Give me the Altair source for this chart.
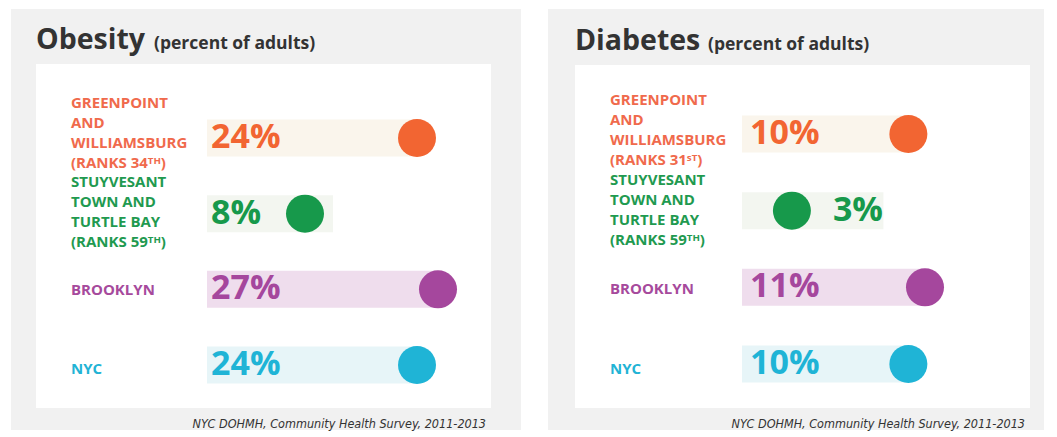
import altair as alt
import pandas as pd

# ---------------- data ----------------
NAMES = ["Greenpoint and Williamsburg", "Stuyvesant Town and Turtle Bay", "Brooklyn", "NYC"]
OBESITY_LABELS = [
    "GREENPOINT\nAND\nWILLIAMSBURG\n(RANKS 34ᵀᴴ)",
    "STUYVESANT\nTOWN AND\nTURTLE BAY\n(RANKS 59ᵀᴴ)",
    "BROOKLYN",
    "NYC",
]
DIABETES_LABELS = [
    "GREENPOINT\nAND\nWILLIAMSBURG\n(RANKS 31ˢᵀ)",
    "STUYVESANT\nTOWN AND\nTURTLE BAY\n(RANKS 59ᵀᴴ)",
    "BROOKLYN",
    "NYC",
]
OBESITY = [24, 8, 27, 24]
DIABETES = [10, 3, 11, 10]
SOURCE = "NYC DOHMH, Community Health Survey, 2011-2013"

# ---------------- style ----------------
COLORS = ["#f26532", "#17994b", "#a5479d", "#1fb4d6"]
LABEL_COLORS = ["#f06a4c", "#1f9a50", "#a64a9c", "#22b3d5"]
TRACK_COLORS = ["#faf5ec", "#f3f6f0", "#efdded", "#e7f5f8"]
GRAY = "#f1f1f1"
FONT = "Open Sans"
LABEL_FONT = "Open Sans, Noto Sans, DejaVu Sans"
LINE_H = 20


def panel(title, subtitle, sub_x, values, labels, width, height, gray_x, x_domain,
          x_range, y_range, label_y_range, label_min, track_min, title_y):
    df = pd.DataFrame({
        "name": NAMES,
        "label": labels,
        "value": values,
        "row": list(range(len(NAMES))),
    })
    # one record per label line (derived from the label list)
    lines = []
    for i, (nm, lab) in enumerate(zip(NAMES, labels)):
        parts = lab.split("\n")
        for k, p in enumerate(parts):
            lines.append({"name": nm, "row": i, "k": k, "n": len(parts), "line": p})
    ldf = pd.DataFrame(lines)

    one = pd.DataFrame({"a": [0]})
    xs = alt.Scale(domain=x_domain, range=x_range, zero=False, nice=False)
    ys = alt.Scale(domain=[0, len(NAMES) - 1], range=y_range, zero=False, nice=False)
    lys = alt.Scale(domain=[0, len(NAMES) - 1], range=label_y_range, zero=False, nice=False)
    Y = alt.Y("row:Q", scale=ys, axis=None)
    col = alt.Color("name:N", scale=alt.Scale(domain=NAMES, range=COLORS), legend=None)

    bg = alt.Chart(one).mark_rect(color=GRAY).encode(
        x=alt.value(gray_x[0]), x2=alt.value(gray_x[1]), y=alt.value(0), y2=alt.value(height))
    inner = alt.Chart(one).mark_rect(color="#ffffff").encode(
        x=alt.value(27), x2=alt.value(482), y=alt.value(title_y + 15), y2=alt.value(399))
    t1 = alt.Chart(one).mark_text(text=title, font=FONT, fontSize=28.5, fontWeight="bold",
                                  align="left", baseline="alphabetic", color="#333333").encode(
        x=alt.value(27), y=alt.value(title_y))
    t2 = alt.Chart(one).mark_text(text=subtitle, font=FONT, fontSize=17.5, fontWeight="bold",
                                  align="left", baseline="alphabetic", color="#333333").encode(
        x=alt.value(sub_x), y=alt.value(title_y))

    base = alt.Chart(df)
    track = base.transform_calculate(
        start=f"{x_domain[0]}", end=f"max(datum.value, {track_min})"
    ).mark_rule(strokeWidth=37, strokeCap="butt").encode(
        x=alt.X("start:Q", scale=xs, axis=None),
        x2="end:Q",
        y=Y,
        color=alt.Color("name:N", scale=alt.Scale(domain=NAMES, range=TRACK_COLORS), legend=None),
    )
    dots = base.mark_circle(size=1444, opacity=1).encode(
        x=alt.X("value:Q", scale=xs, axis=None), y=Y, color=col)
    vl = base.transform_filter(f"datum.value >= {label_min}").transform_calculate(
        pct="datum.value + '%'"
    ).mark_text(font=FONT, fontSize=34, fontWeight="bold", align="left", baseline="middle").encode(
        x=alt.value(202), y=Y, text="pct:N", color=col)
    vr = base.transform_filter(f"datum.value < {label_min}").transform_calculate(
        pct="datum.value + '%'"
    ).mark_text(font=FONT, fontSize=34, fontWeight="bold", align="left", baseline="middle", dx=41).encode(
        x=alt.X("value:Q", scale=xs, axis=None), y=Y, text="pct:N", color=col)

    name_layers = []
    for n in sorted(ldf["n"].unique()):
        for k in range(n):
            name_layers.append(
                alt.Chart(ldf).transform_filter(f"datum.n == {n} && datum.k == {k}")
                .mark_text(font=LABEL_FONT, fontSize=15, fontWeight="bold", align="left",
                           baseline="middle", dy=(k - (n - 1) / 2) * LINE_H)
                .encode(x=alt.value(62), y=alt.Y("row:Q", scale=lys, axis=None), text="line:N",
                        color=alt.Color("name:N", scale=alt.Scale(domain=NAMES, range=LABEL_COLORS),
                                        legend=None))
            )

    src = alt.Chart(one).mark_text(text=SOURCE, font="DejaVu Sans Condensed, Liberation Sans", fontSize=12.5,
                                   fontStyle="italic", align="right", baseline="alphabetic",
                                   color="#333333").encode(x=alt.value(477), y=alt.value(419))

    return alt.layer(bg, inner, t1, t2, track, dots, vl, vr, *name_layers, src).resolve_scale(
        color="independent", y="independent").properties(width=width, height=height)


left = panel("Obesity", "(percent of adults)", 145, OBESITY, OBESITY_LABELS, 512, 421,
             (2, 512), [-6, 27], [198, 429], [129, 356], [124, 360], 0, 12, 40)
right = panel("Diabetes", "(percent of adults)", 160, DIABETES, DIABETES_LABELS, 496, 421,
              (0, 496), [0, 11], [194, 377], [125, 355], [121, 360], 5, 8.5, 41)

chart = alt.hconcat(left, right, spacing=25).properties(padding=0).configure_view(
    stroke="transparent")

chart.save("out.html", embed_options={"renderer": "svg", "actions": False})
